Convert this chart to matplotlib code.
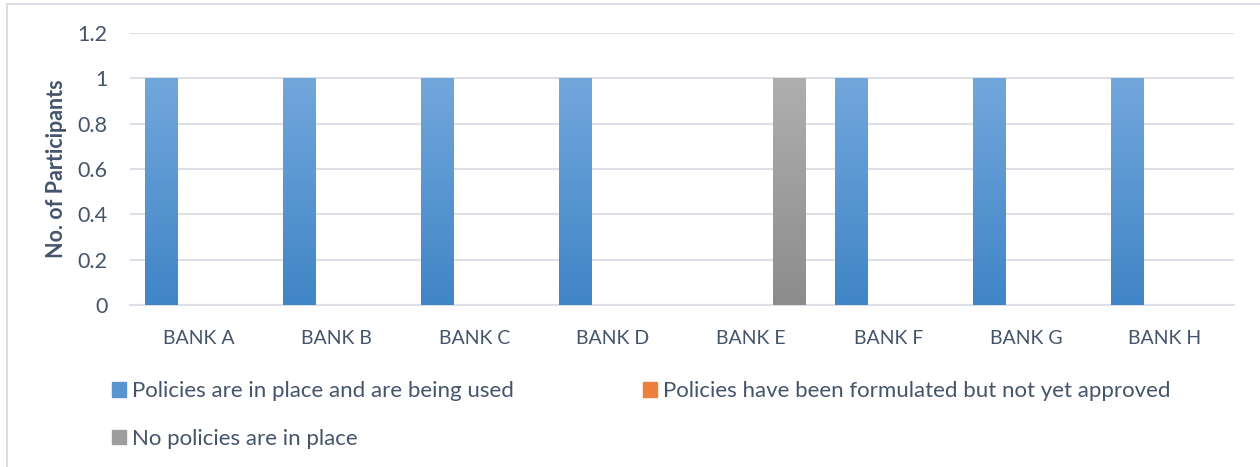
import matplotlib
matplotlib.use('Agg')
import matplotlib.pyplot as plt
import numpy as np
from matplotlib.colors import LinearSegmentedColormap
from matplotlib.patches import Rectangle

plt.rcParams['font.family'] = ['Lato', 'DejaVu Sans']

banks = ['BANK A', 'BANK B', 'BANK C', 'BANK D', 'BANK E', 'BANK F', 'BANK G', 'BANK H']
series_names = ['Policies are in place and are being used',
                'Policies have been formulated but not yet approved',
                'No policies are in place']
in_place = [1, 1, 1, 1, 0, 1, 1, 1]
formulated = [0, 0, 0, 0, 0, 0, 0, 0]
no_policies = [0, 0, 0, 0, 1, 0, 0, 0]
yticks = [0, 0.2, 0.4, 0.6, 0.8, 1, 1.2]

# top / bottom colours of each bar gradient
grads = [('#72a7dc', '#4085c6'), ('#f4945a', '#e46c1d'), ('#afafaf', '#8c8c8c')]
text_col = '#44546a'
grid_col = '#dde1e7'

fig = plt.figure(figsize=(12.6, 4.67), dpi=100)
ax = fig.add_axes([130 / 1260, 1 - 305 / 467, 1103.5 / 1260, 272 / 467])

x = np.arange(len(banks))
width = 0.232
offset = 0.2756
data = [in_place, formulated, no_policies]
handles = []
for i, vals in enumerate(data):
    top, bot = grads[i]
    bars = ax.bar(x + (i - 1) * offset, vals, width, color=bot, zorder=2,
                  label=series_names[i])
    cmap = LinearSegmentedColormap.from_list('g%d' % i, [bot, top])
    grad = np.linspace(0, 1, 256).reshape(-1, 1)
    for b in bars:
        if b.get_height() <= 0:
            continue
        x0, w, h = b.get_x(), b.get_width(), b.get_height()
        ax.imshow(grad, cmap=cmap, origin='lower', aspect='auto',
                  extent=(x0, x0 + w, 0, h), zorder=3)
    handles.append(Rectangle((0, 0), 1, 1, color=cmap(0.5)))

ax.set_xlim(-0.5, len(banks) - 0.5)
ax.set_ylim(0, 1.2)
ax.set_yticks(yticks)
ax.set_yticklabels(['0', '0.2', '0.4', '0.6', '0.8', '1', '1.2'])
ax.set_xticks(x)
ax.set_xticklabels(banks)
ax.tick_params(axis='both', length=0, colors=text_col)
ax.tick_params(axis='y', pad=16, labelsize=15.5)
ax.tick_params(axis='x', pad=18, labelsize=14)
for s in ['top', 'right', 'left']:
    ax.spines[s].set_visible(False)
ax.spines['bottom'].set_color(grid_col)
ax.spines['bottom'].set_linewidth(1.5)
ax.set_axisbelow(True)
ax.grid(axis='y', color=grid_col, linewidth=1.5)

ax.set_ylabel('No. of Participants', fontsize=15.5, fontweight='bold', color=text_col)
ax.yaxis.set_label_coords(-0.057, 0.5)

# row-major order: first two entries on the top row
order = [0, 2, 1]
leg = fig.legend([handles[k] for k in order], [series_names[k] for k in order],
                 loc='upper left', ncol=2,
                 bbox_to_anchor=(92 / 1260, 1 - 361 / 467), frameon=False,
                 fontsize=16, handlelength=0.65, handleheight=0.65,
                 handletextpad=0.25, columnspacing=5.8, labelspacing=1.25,
                 labelcolor=text_col)

# outer frame of the chart area
fig.patches.append(Rectangle((7 / 1260, -0.1), 1.2, 1 - 4 / 467 + 0.1,
                             transform=fig.transFigure, fill=False,
                             edgecolor='#d9dee5', linewidth=1.5))

fig.savefig('out.png', dpi=100, facecolor='white')
